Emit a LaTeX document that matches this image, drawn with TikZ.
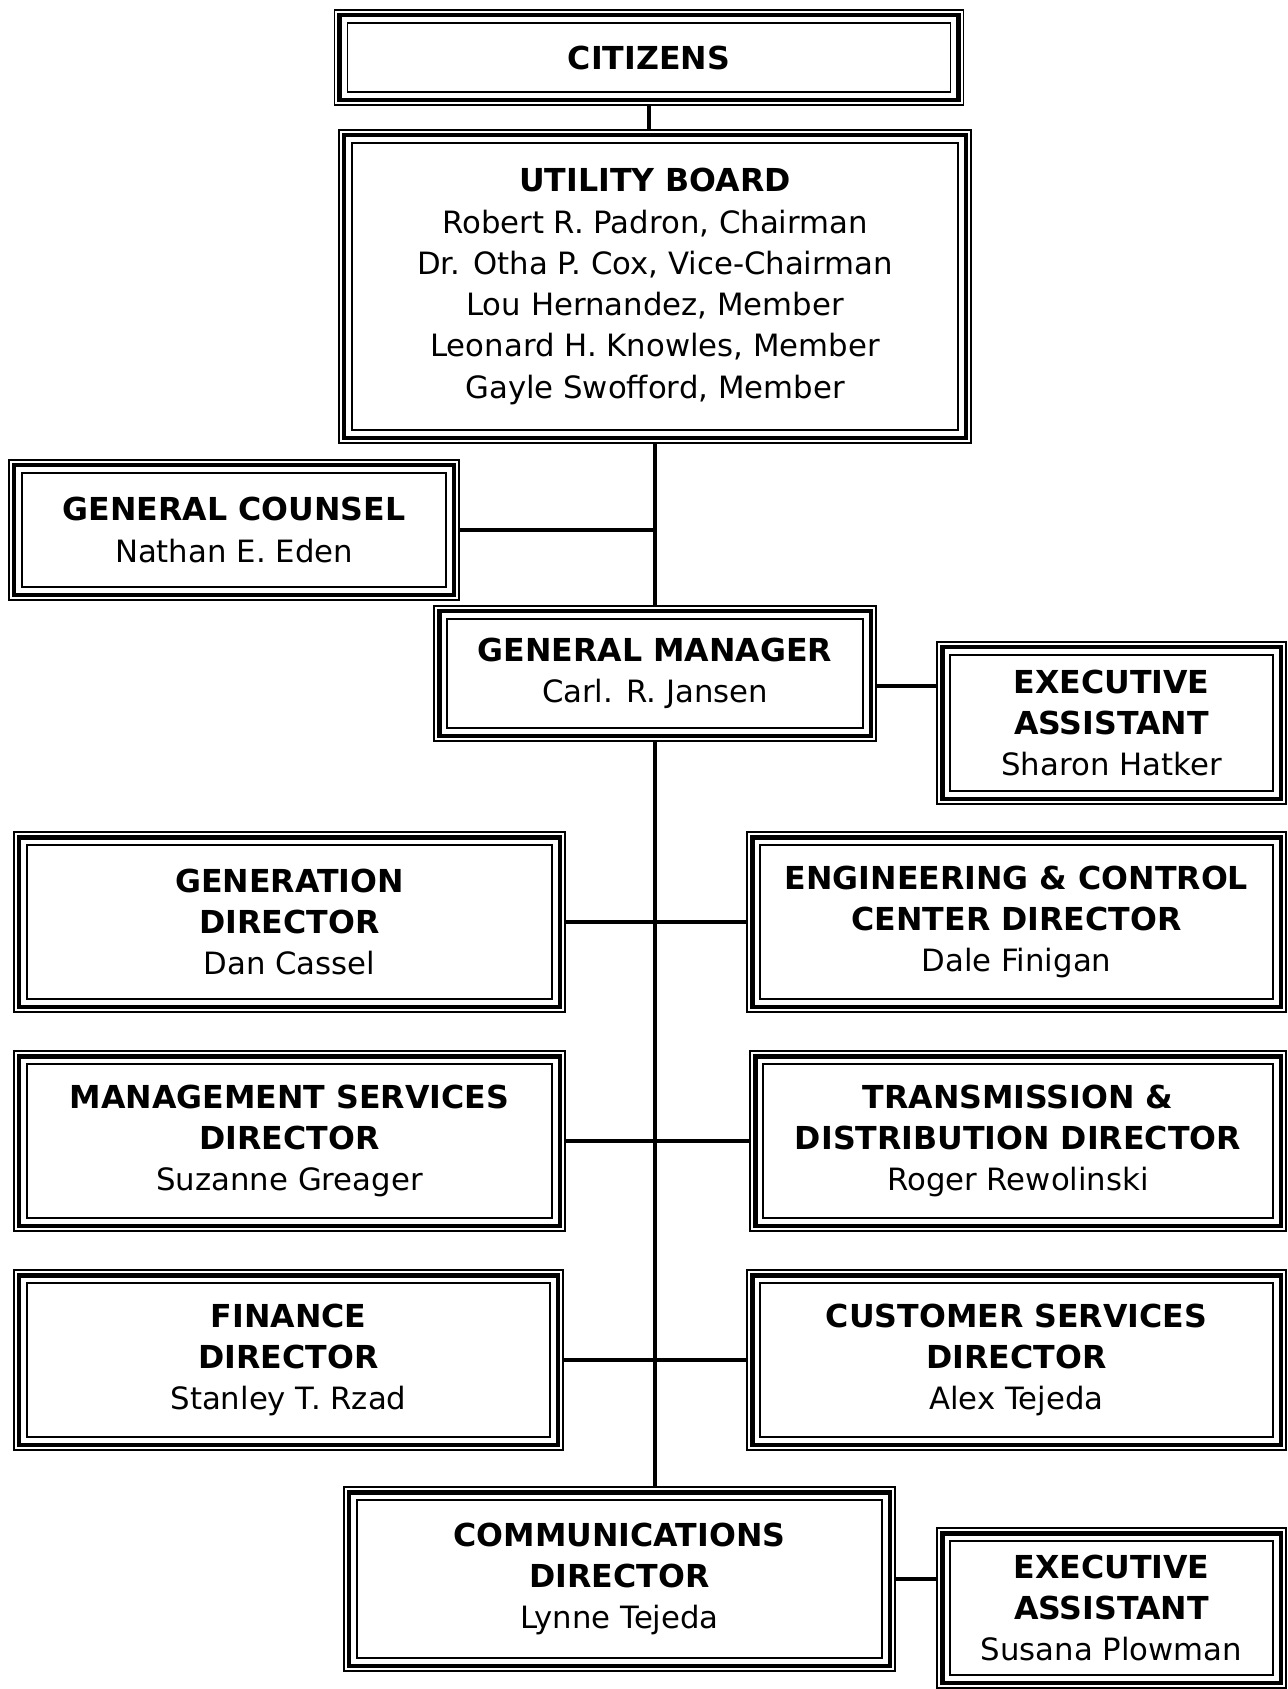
\documentclass[tikz,border=0pt]{standalone}
\usepackage[rgb]{xcolor}
\usepackage{fontspec}
\setmainfont{DejaVu Sans}
\usepackage{tikz}
\usetikzlibrary{backgrounds}

\tikzset{
  box/.style={draw=black, line width=1pt, align=center, inner sep=0pt,
    font=\fontsize{17.5}{23.5}\selectfont},
  thickline/.style={draw=black, line width=2.7pt},
  thinline/.style={draw=black, line width=0.8pt},
  link/.style={draw=black, line width=2.3pt}
}

% heading text
\newcommand{\hd}[1]{{\fontsize{18}{23.5}\selectfont\textbf{#1}}}

% outer frames round a box
\newcommand{\tribox}[1]{%
  \fill[white] ([shift={(-0.24,0.24)}]#1.north west) rectangle ([shift={(0.24,-0.24)}]#1.south east);
  \draw[thinline] ([shift={(-0.24,0.24)}]#1.north west) rectangle ([shift={(0.24,-0.24)}]#1.south east);
  \draw[thickline] ([shift={(-0.14,0.14)}]#1.north west) rectangle ([shift={(0.14,-0.14)}]#1.south east);
}

\begin{document}
\begin{tikzpicture}

\useasboundingbox (0,0) rectangle (25.74,-33.78);

% Top
\path 
(12.98,-1.15) node [box, minimum width=12.06cm, minimum height=1.38cm] (citizens) {\hd{CITIZENS}};

\path 
(13.1,-5.73) node [box, minimum width=12.12cm, minimum height=5.74cm] (board)
{\hd{UTILITY BOARD}\\Robert R. Padron, Chairman\\Dr. Otha P. Cox, Vice-Chairman\\Lou Hernandez, Member\\Leonard H. Knowles, Member\\Gayle Swofford, Member};

\path 
(4.68,-10.6) node [box, minimum width=8.48cm, minimum height=2.28cm] (counsel) {\hd{GENERAL COUNSEL}\\Nathan E. Eden};

%
% General manager
%
\path 
(13.1,-13.47) node [box, minimum width=8.32cm, minimum height=2.18cm] (gm) {\hd{GENERAL MANAGER}\\Carl. R. Jansen};

\path 
(22.23,-14.46) node [box, minimum width=6.46cm, minimum height=2.72cm] (assist) {\hd{EXECUTIVE}\\\hd{ASSISTANT}\\Sharon Hatker};

\coordinate (gmout) at ([yshift=-0.25cm]gm.east);

%
% Directors
%
\path 
(5.79,-18.44) node [box, minimum width=10.5cm, minimum height=3.08cm] (generation) {\hd{GENERATION}\\\hd{DIRECTOR}\\Dan Cassel};

\path 
(20.33,-18.44) node [box, minimum width=10.26cm, minimum height=3.08cm] (engineering) {\hd{ENGINEERING \& CONTROL}\\\hd{CENTER DIRECTOR}\\Dale Finigan};

\path 
(5.79,-22.82) node [box, minimum width=10.5cm, minimum height=3.08cm] (management) {\hd{MANAGEMENT SERVICES}\\\hd{DIRECTOR}\\Suzanne Greager};

\path 
(20.36,-22.82) node [box, minimum width=10.2cm, minimum height=3.08cm] (transmission) {\hd{TRANSMISSION \&}\\\hd{DISTRIBUTION DIRECTOR}\\Roger Rewolinski};

\path 
(5.77,-27.2) node [box, minimum width=10.46cm, minimum height=3.08cm] (finance) {\hd{FINANCE}\\\hd{DIRECTOR}\\Stanley T. Rzad};

\path 
(20.33,-27.2) node [box, minimum width=10.26cm, minimum height=3.08cm] (customer) {\hd{CUSTOMER SERVICES}\\\hd{DIRECTOR}\\Alex Tejeda};

% Communications
\path 
(12.39,-31.58) node [box, minimum width=10.5cm, minimum height=3.16cm] (comm) {\hd{COMMUNICATIONS}\\\hd{DIRECTOR}\\Lynne Tejeda};

\path 
(22.23,-32.16) node [box, minimum width=6.46cm, minimum height=2.68cm] (assisttwo) {\hd{EXECUTIVE}\\\hd{ASSISTANT}\\Susana Plowman};


% Lines and frames
\begin{scope}[on background layer]
\draw[link] (citizens.south) -- (citizens.south |- board.north);
\draw[link] (board.south) -- (gm.north);
\draw[link] (gm.south) -- (gm.south |- comm.north);
\draw[link] (counsel.east) -- (counsel.east -| board.south);
\draw[link] (gmout) -- (gmout -| assist.west);
\draw[link] (generation.east) -- (engineering.west);
\draw[link] (management.east) -- (transmission.west);
\draw[link] (finance.east) -- (finance.east -| customer.west);
\draw[link] (comm.east) -- (comm.east -| assisttwo.west);

\tribox{citizens}
\tribox{board}
\tribox{counsel}
\tribox{gm}
\tribox{assist}
\tribox{generation}
\tribox{engineering}
\tribox{management}
\tribox{transmission}
\tribox{finance}
\tribox{customer}
\tribox{comm}
\tribox{assisttwo}
\end{scope}

\end{tikzpicture}
\end{document}
